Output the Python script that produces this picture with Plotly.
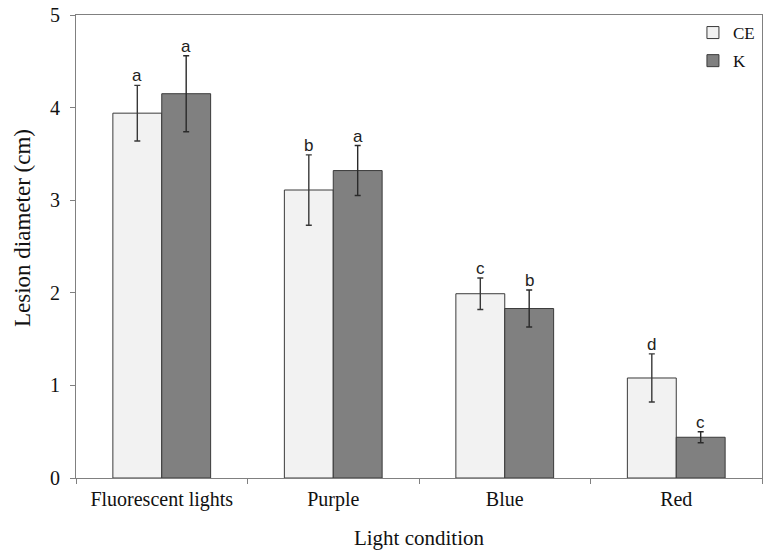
import plotly.graph_objects as go

categories = ["Fluorescent lights", "Purple", "Blue", "Red"]
ce_values = [3.94, 3.11, 1.99, 1.08]
ce_errors = [0.30, 0.38, 0.17, 0.26]
k_values = [4.15, 3.32, 1.83, 0.44]
k_errors = [0.41, 0.27, 0.20, 0.06]
ce_letters = ["a", "b", "c", "d"]
k_letters = ["a", "a", "b", "c"]
y_ticks = [0, 1, 2, 3, 4, 5]

SERIF = "Liberation Serif, Times New Roman, serif"
SANS = "Liberation Sans, Arial, sans-serif"
EDGE = "#3a3a3a"
TXT = "#111111"

fig = go.Figure()
fig.add_trace(go.Bar(
    name="CE", x=categories, y=ce_values, legendgroup="ce",
    marker=dict(color="#f2f2f2", line=dict(color=EDGE, width=1)),
    error_y=dict(type="data", array=ce_errors, color="#383838", thickness=1.4, width=3),
))
fig.add_trace(go.Bar(
    name="K", x=categories, y=k_values, legendgroup="k",
    marker=dict(color="#808080", line=dict(color=EDGE, width=1)),
    error_y=dict(type="data", array=k_errors, color="#2a2a2a", thickness=1.4, width=3),
))

annotations = []
for i, c in enumerate(categories):
    for vals, errs, letters, shift in ((ce_values, ce_errors, ce_letters, -24.5),
                                       (k_values, k_errors, k_letters, 24.5)):
        annotations.append(dict(
            x=c, y=vals[i] + errs[i], xref="x", yref="y", text=letters[i],
            showarrow=False, xshift=shift, yshift=-2, yanchor="bottom",
            font=dict(family=SANS, size=17, color="#222222"),
        ))

# y-axis title (placed as rotated text, slightly above the axis centre as in the reference)
annotations.append(dict(
    x=0, y=0.54, xref="paper", yref="paper", xshift=-53, text="Lesion diameter (cm)",
    textangle=-90, showarrow=False, xanchor="center", yanchor="middle",
    font=dict(family=SERIF, size=23, color=TXT),
))

fig.update_layout(
    width=765, height=556,
    margin=dict(l=76, r=3, t=15, b=78),
    paper_bgcolor="white", plot_bgcolor="white",
    barmode="group", bargap=0.43, bargroupgap=0,
    font=dict(family=SERIF, size=20, color=TXT),
    showlegend=True,
    legend=dict(
        x=0.997, y=1.0, xanchor="right", yanchor="top",
        bgcolor="rgba(0,0,0,0)", font=dict(family=SERIF, size=17, color=TXT),
        tracegroupgap=3, itemwidth=30,
    ),
    annotations=annotations,
    xaxis=dict(
        type="category", showline=True, linecolor="#808080", linewidth=1.2,
        mirror=True, ticks="outside", tickson="boundaries", ticklen=5,
        tickcolor="#808080", showgrid=False,
        tickfont=dict(family=SERIF, size=20, color=TXT),
        ticklabelstandoff=3,
        title=dict(text="Light condition", font=dict(family=SERIF, size=21, color=TXT), standoff=20),
    ),
    yaxis=dict(
        range=[0, 5], tickvals=y_ticks, showline=True, linecolor="#808080", linewidth=1.2,
        mirror=True, ticks="outside", ticklen=5, tickcolor="#808080", showgrid=False,
        zeroline=False,
        tickfont=dict(family=SERIF, size=20, color=TXT),
        ticklabelstandoff=6,
    ),
)

fig.write_html("out.html")
